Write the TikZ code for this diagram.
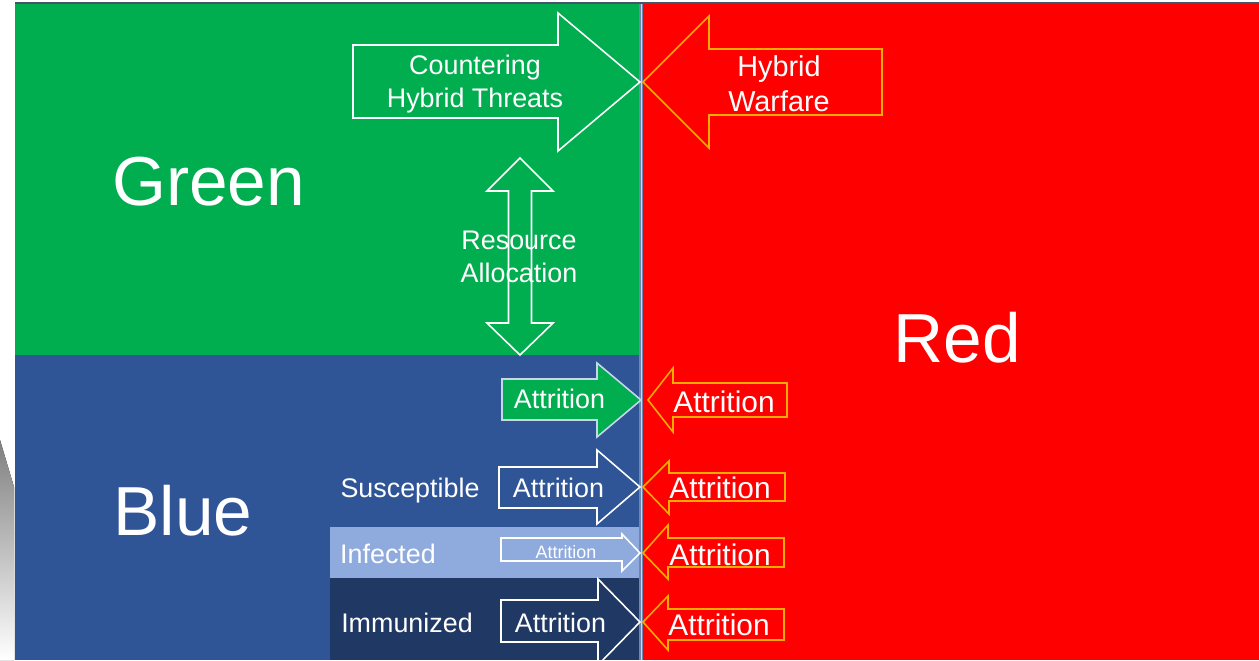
\documentclass[tikz,border=0pt]{standalone}
\usepackage{fontspec}
\setmainfont{Liberation Sans}

\definecolor{grn}{RGB}{0,173,79}
\definecolor{blu}{RGB}{47,85,151}
\definecolor{infc}{RGB}{143,170,220}
\definecolor{immc}{RGB}{31,56,100}
\definecolor{orng}{RGB}{255,170,0}
\definecolor{edgec}{RGB}{200,214,236}
\definecolor{slate}{RGB}{68,84,106}
\definecolor{divc}{RGB}{112,134,174}
\definecolor{shade}{RGB}{230,236,243}

\begin{document}
\begin{tikzpicture}
	[x=0.02cm, y=-0.02cm,
	every node/.style={text=white, inner sep=0pt},
	big/.style={font=\fontsize{39.5}{47}\selectfont, anchor=base},
	lbl/.style={font=\fontsize{15.3}{18}\selectfont, anchor=base},
	redlbl/.style={font=\fontsize{17}{20}\selectfont, anchor=base},
	twoline/.style={align=center, font=\fontsize{15.3}{18.5}\selectfont},
	whitearr/.style={draw=white, line width=0.9pt, line join=miter},
	redarr/.style={draw=orng, fill=red, line width=0.9pt, line join=miter}]
	\clip (0,0) rectangle (1259,660);
	\fill [white] (0,0) rectangle (1259,660);
	\fill [shade] (0,440) -- (14,487) -- (14,660) -- (0,660) -- cycle;
	% panels
	\fill [grn] (15,4) rectangle (639,355);
	\fill [blu] (15,355) rectangle (639,660);
	\fill [red] (643,4) rectangle (1259,660);
	\fill [infc] (330,527) rectangle (639,578);
	\fill [immc] (330,578) rectangle (639,660);
	\fill [divc] (639,4) rectangle (643,660);
	\draw [edgec, line width=0.5pt] (641,4) -- (641,660);
	\draw [slate, line width=1.2pt] (15,3) -- (1259,3);
	% big arrows
	\draw [whitearr] (353,45) -- (558,45) -- (558,13) -- (640,82) -- (558,151) -- (558,118) -- (353,118) -- cycle;
	\draw [redarr] (643,82) -- (709,16) -- (709,49) -- (882,49) -- (882,115) -- (709,115) -- (709,148) -- cycle;
	\draw [whitearr] (520,158) -- (553,191) -- (531.5,191) -- (531.5,323) -- (553,323) -- (520,355)
		-- (487,323) -- (508.5,323) -- (508.5,191) -- (487,191) -- cycle;
	% attrition arrows
	\draw [whitearr, draw=edgec, fill=grn] (502,379) -- (597,379) -- (597,363) -- (641,400) -- (597,437) -- (597,420) -- (502,420) -- cycle;
	\draw [redarr] (648,400) -- (673,368) -- (673,383) -- (787,383) -- (787,417) -- (673,417) -- (673,432) -- cycle;
	\draw [whitearr] (499,467) -- (597,467) -- (597,450) -- (640,487) -- (597,524) -- (597,508) -- (499,508) -- cycle;
	\draw [redarr] (643,487) -- (669,461) -- (669,473) -- (785,473) -- (785,501) -- (669,501) -- (669,514) -- cycle;
	\draw [whitearr] (501,538) -- (622,538) -- (622,534) -- (640,553) -- (622,571) -- (622,561) -- (501,561) -- cycle;
	\draw [redarr] (643,553) -- (668,525) -- (668,538) -- (784,538) -- (784,567) -- (668,567) -- (668,579) -- cycle;
	\draw [whitearr] (501,600) -- (598,600) -- (598,579) -- (640,622) -- (598,665) -- (598,642) -- (501,642) -- cycle;
	\draw [redarr] (643,622) -- (668,596) -- (668,609) -- (784,609) -- (784,640) -- (668,640) -- (668,650) -- cycle;
	% labels
	\node (green) [big] at (208.5,205) {Green};
	\node (blue) [big] at (183,535) {Blue};
	\node (red) [big] at (957,362) {Red};
	\node (counter) [twoline] at (475,84) {Countering\\Hybrid Threats};
	\node (warfare) [twoline, font=\fontsize{16.4}{20}\selectfont] at (779,84) {Hybrid\\Warfare};
	\node (resource) [twoline] at (519,257) {Resource\\Allocation};
	\node (attrG) [lbl] at (559.5,408) {Attrition};
	\node (attrR1) [redlbl] at (724,412) {Attrition};
	\node (suscept) [lbl] at (410,497) {Susceptible};
	\node (attrS) [lbl] at (558.5,497) {Attrition};
	\node (attrR2) [redlbl] at (720,498) {Attrition};
	\node (infect) [lbl] at (388,563) {Infected};
	\node (attrI) [lbl, font=\fontsize{10.2}{12}\selectfont] at (566,558) {Attrition};
	\node (attrR3) [redlbl] at (720,565) {Attrition};
	\node (immune) [lbl] at (407,632) {Immunized};
	\node (attrM) [lbl] at (560.5,632) {Attrition};
	\node (attrR4) [redlbl] at (719,635) {Attrition};
\end{tikzpicture}
\end{document}
